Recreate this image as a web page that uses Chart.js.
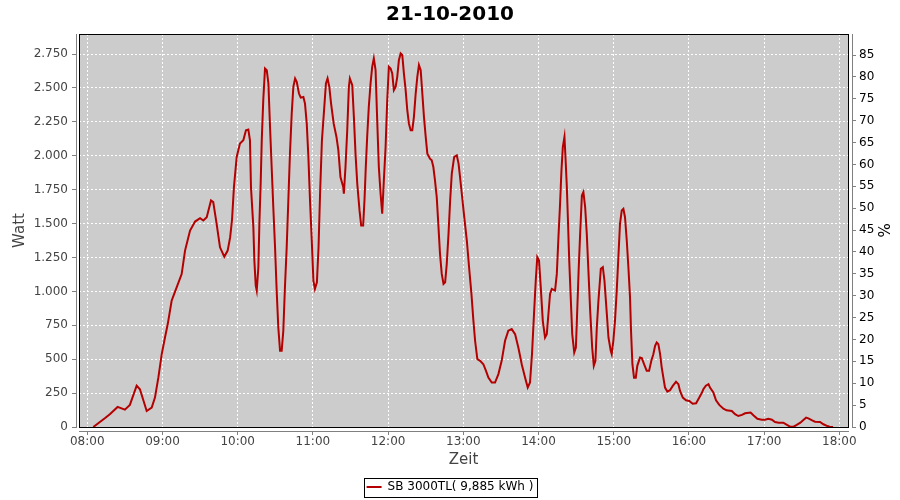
<!DOCTYPE html>
<html>
<head>
<meta charset="utf-8">
<script src="https://cdn.jsdelivr.net/npm/chart.js@4.4.0/dist/chart.umd.min.js"></script>
<style>
  html, body { margin: 0; padding: 0; background: #fff; }
  #wrap { width: 900px; height: 500px; }
</style>
</head>
<body>
<div id="wrap"><canvas id="chart" width="900" height="500"></canvas></div>
<script>
// minutes since midnight
const times = [
  484.8, 494, 498, 504.2, 510, 514, 519.4, 522, 527.4, 531.4, 534, 536.7, 539.4, 542, 544.2, 547.3,
  551.3, 555.3, 558, 562, 566, 570, 572.6, 575.3, 578.7, 580.5, 583.2, 585.9, 589.3, 592, 594, 595.5,
  597, 599.2, 601.8, 604.5, 606.6, 608.5, 609.8, 610.6, 612.5, 613.3, 614.4, 615.2, 616.5, 617.3, 618.4, 619.2,
  620.4, 621.8, 623.2, 624.5, 625.8, 627.1, 628.4, 629.8, 631.1, 632.4, 633.8, 635.1, 636.4, 637.7, 639.1, 640.4,
  641.7, 643.1, 644.4, 645.8, 647.1, 648.9, 650.3, 652.4, 653.7, 655.1, 656.4, 657.7, 659.1, 660.4, 661.6, 663.2,
  664.5, 665.8, 667.2, 669.1, 670.4, 671.7, 673.1, 674.5, 676.6, 678.8, 680.3, 682, 684.2, 684.7, 686, 687.4,
  688.7, 689.5, 691.4, 692.7, 694, 695.4, 697.2, 698.5, 700.1, 701.2, 702.2, 703.3, 704.6, 706, 707.3, 708.6,
  710, 711.3, 712.6, 714, 715.3, 716.6, 718, 719.3, 720.6, 722, 723.3, 724.6, 726, 727.3, 728.6, 730,
  731.3, 732.6, 734, 735.3, 736.6, 738, 739.3, 740.6, 742, 743.3, 744.6, 746, 747.3, 748.6, 750, 751.3,
  753.4, 754.8, 756.1, 757.4, 758.8, 760.2, 761.4, 762.8, 764.2, 765.5, 766.8, 768.2, 769.5, 770.8, 772.7, 774.8,
  776.2, 777.4, 778.8, 780.6, 782.8, 784.6, 786.5, 788, 789.4, 791.2, 793.4, 796, 798.1, 800, 802.7, 805.3,
  808, 810.6, 813.3, 815.9, 818.6, 821.3, 823.9, 826.6, 829.3, 831.4, 833.2, 834.8, 836.4, 837.8, 839, 840.4,
  841.8, 843.4, 845.2, 846.6, 847.9, 849.2, 850.6, 853.2, 854.6, 855.9, 857.2, 858.3, 859.4, 860.7, 861.5, 862.6,
  863.4, 864.5, 865.8, 866.9, 868.5, 869.8, 870.6, 872, 873.2, 874.6, 875.8, 877.2, 878.5, 879.8, 881.2, 882.8,
  884.1, 885.4, 886.5, 887.8, 889.7, 891.3, 892.6, 894.5, 895.8, 897.6, 898.4, 899.7, 901, 902.4, 903.7, 905,
  906.4, 907.7, 909, 910.4, 911.7, 913, 913.8, 914.9, 916.2, 917.6, 918.8, 921, 922.4, 924.2, 926.3, 928.2,
  930, 931.6, 933, 934.3, 935.6, 937, 938.3, 939.6, 940.9, 942.8, 944.9, 947.1, 949.7, 951.6, 952.9, 955.1,
  957.7, 960.3, 963, 965.7, 967.5, 970.2, 971.5, 973.5, 975.6, 976.8, 979.5, 981.6, 984.2, 987.5, 990, 994.2,
  996.8, 999.4, 1002.3, 1004.8, 1009.2, 1011.4, 1014.6, 1018.1, 1020.7, 1023.4, 1026.2, 1028.7, 1031.6, 1035.3, 1037.5, 1040.7,
  1043.5, 1046, 1048.9, 1051.3, 1053.5, 1055.3, 1058.3, 1060.6, 1064.6, 1067.3, 1070.5, 1072.6, 1075
];

const watts = [
  0, 64, 94, 148, 128, 163, 305, 278, 118, 143, 217, 364, 537, 660, 759, 931,
  1030, 1128, 1301, 1449, 1515, 1540, 1523, 1547, 1670, 1658, 1498, 1325, 1256, 1301, 1400, 1530,
  1769, 1991, 2090, 2114, 2188, 2193, 2114, 1769, 1474, 1227, 1043, 1006, 1178, 1498, 1818, 2114,
  2410, 2644, 2631, 2533, 2213, 1917, 1622, 1325, 1006, 734, 562, 562, 710, 1030, 1325, 1670,
  2016, 2311, 2508, 2570, 2545, 2459, 2429, 2434, 2385, 2237, 1991, 1670, 1375, 1079, 1018, 1067,
  1325, 1745, 2114, 2361, 2533, 2570, 2508, 2385, 2237, 2139, 2041, 1843, 1769, 1720, 1917, 2188,
  2508, 2570, 2521, 2287, 2016, 1794, 1597, 1486, 1486, 1680, 1917, 2139, 2361, 2533, 2656, 2718,
  2631, 2262, 1917, 1720, 1573, 1818, 2065, 2410, 2656, 2644, 2607, 2484, 2508, 2582, 2705, 2755,
  2743, 2607, 2484, 2336, 2237, 2188, 2188, 2287, 2459, 2582, 2669, 2631, 2459, 2287, 2139, 2016,
  1979, 1967, 1917, 1818, 1695, 1474, 1277, 1129, 1055, 1067, 1203, 1424, 1670, 1868, 1991, 2003,
  1942, 1843, 1720, 1560, 1375, 1178, 980, 790, 636, 500, 488, 463, 414, 364, 328, 328,
  390, 488, 636, 710, 722, 685, 586, 463, 364, 291, 328, 537, 833, 1079, 1252, 1227,
  1030, 783, 660, 685, 833, 981, 1018, 1006, 1129, 1400, 1647, 1892, 2065, 2139, 1991, 1769,
  1547, 1227, 931, 685, 549, 586, 783, 1153, 1424, 1708, 1733, 1622, 1424, 1153, 858, 586,
  451, 488, 734, 931, 1166, 1178, 1079, 833, 660, 562, 537, 636, 783, 1006, 1252, 1498,
  1597, 1609, 1547, 1375, 1178, 956, 710, 463, 364, 364, 451, 512, 508, 463, 414, 414,
  488, 537, 599, 623, 611, 537, 438, 364, 291, 261, 271, 303, 333, 316, 266, 217,
  197, 192, 172, 175, 205, 250, 278, 305, 316, 291, 254, 197, 163, 135, 123, 118,
  94, 81, 89, 101, 106, 86, 61, 54, 54, 61, 54, 37, 32, 32, 20, 2,
  2, 15, 32, 52, 69, 64, 49, 39, 37, 20, 7, 0, 0
];

const hourTicks = [480, 540, 600, 660, 720, 780, 840, 900, 960, 1020, 1080];
const hourLabels = ['08:00', '09:00', '10:00', '11:00', '12:00', '13:00', '14:00', '15:00', '16:00', '17:00', '18:00'];
const wattTicks = [0, 250, 500, 750, 1000, 1250, 1500, 1750, 2000, 2250, 2500, 2750];
const percentTicks = [0, 5, 10, 15, 20, 25, 30, 35, 40, 45, 50, 55, 60, 65, 70, 75, 80, 85];

const chartTitle = '21-10-2010';
const seriesLabel = 'SB 3000TL( 9,885 kWh )';

const FONT = "'DejaVu Sans', sans-serif";
const PLOT_LEFT = 79;
const PLOT_RIGHT = 848;
const PLOT_BOTTOM = 427;
const PAD_BOTTOM = -3;

function formatWatt(v) {
  if (v < 1000) return String(v);
  return Math.floor(v / 1000) + '.' + String(v % 1000).padStart(3, '0');
}

const plotFrame = {
  id: 'plotFrame',
  beforeDraw(chart) {
    const { ctx, chartArea: a } = chart;
    ctx.save();
    ctx.fillStyle = '#cccccc';
    ctx.fillRect(a.left, a.top, a.right - a.left, a.bottom - a.top);
    ctx.restore();
  },
  afterDraw(chart) {
    const { ctx, chartArea: a } = chart;
    ctx.save();
    // small gap between plot and axis lines
    ctx.fillStyle = '#fff';
    ctx.fillRect(a.left - 2, a.top, 2, a.bottom - a.top + 5);
    ctx.fillRect(a.right + 1, a.top, 3, a.bottom - a.top + 5);
    ctx.fillRect(a.left - 2, a.bottom + 1, a.right - a.left + 6, 3);

    ctx.strokeStyle = '#808080';
    ctx.lineWidth = 1;
    ctx.beginPath();
    ctx.moveTo(a.left - 2.5, a.top);
    ctx.lineTo(a.left - 2.5, a.bottom + 1);
    ctx.moveTo(a.right + 4.5, a.top);
    ctx.lineTo(a.right + 4.5, a.bottom + 1);
    ctx.moveTo(a.left, a.bottom + 4.5);
    ctx.lineTo(a.right + 1, a.bottom + 4.5);
    ctx.stroke();

    ctx.strokeStyle = '#000';
    ctx.strokeRect(a.left + 0.5, a.top + 0.5, a.right - a.left, a.bottom - a.top);

    // frame round the legend
    const hb = chart.legend.legendHitBoxes[0];
    if (hb) {
      const cy = hb.top + hb.height / 2;
      ctx.strokeRect(Math.round(hb.left - 3) + 0.5, Math.round(cy - 9.5) + 0.5,
        Math.round(hb.width + 6), 19);
    }
    ctx.restore();
  }
};

new Chart(document.getElementById('chart'), {
  type: 'line',
  data: {
    datasets: [{
      label: seriesLabel,
      data: times.map((t, i) => ({ x: t, y: watts[i] })),
      borderColor: '#b40000',
      backgroundColor: '#b40000',
      borderWidth: 2,
      pointRadius: 0,
      fill: false,
      tension: 0,
      yAxisID: 'y'
    }]
  },
  options: {
    responsive: false,
    animation: false,
    devicePixelRatio: 1,
    events: [],
    layout: { padding: { left: 0, right: 0, top: 0, bottom: PAD_BOTTOM } },
    plugins: {
      title: {
        display: true,
        text: chartTitle,
        color: '#000',
        font: { family: FONT, size: 20, weight: 'bold' },
        padding: { top: 3, bottom: 7 }
      },
      legend: {
        position: 'bottom',
        labels: {
          usePointStyle: true,
          pointStyle: 'line',
          pointStyleWidth: 15,
          color: '#000',
          padding: 10,
          font: { family: FONT, size: 12 }
        }
      },
      tooltip: { enabled: false }
    },
    scales: {
      x: {
        type: 'linear',
        min: 473.4,
        max: 1086.9,
        afterBuildTicks: s => { s.ticks = hourTicks.map(v => ({ value: v })); },
        afterFit: s => { s.height = s.chart.height - PAD_BOTTOM - s.chart.legend.height - PLOT_BOTTOM; },
        ticks: {
          callback: (v, i) => hourLabels[i],
          color: '#444',
          padding: 0,
          maxRotation: 0,
          font: { family: FONT, size: 12 }
        },
        grid: { color: '#fff', lineWidth: 1, tickLength: 8, tickColor: '#808080', tickBorderDash: [] },
        border: { display: false, dash: [2, 2] },
        title: {
          display: true,
          text: 'Zeit',
          color: '#444',
          font: { family: FONT, size: 15 },
          padding: { top: 0, bottom: 2 }
        }
      },
      y: {
        position: 'left',
        min: 0,
        max: 2898,
        afterBuildTicks: s => { s.ticks = wattTicks.map(v => ({ value: v })); },
        afterFit: s => { s.width = PLOT_LEFT; },
        ticks: {
          callback: v => formatWatt(v),
          color: '#444',
          padding: 4,
          font: { family: FONT, size: 12 }
        },
        grid: { color: '#fff', lineWidth: 1, tickLength: 7, tickColor: '#808080', tickBorderDash: [] },
        border: { display: false, dash: [2, 2] },
        title: {
          display: true,
          text: 'Watt',
          color: '#444',
          font: { family: FONT, size: 15 },
          padding: { top: 11, bottom: 0 }
        }
      },
      y2: {
        position: 'right',
        min: 0,
        max: 89.8,
        afterBuildTicks: s => { s.ticks = percentTicks.map(v => ({ value: v })); },
        afterFit: s => { s.width = 900 - PLOT_RIGHT; },
        ticks: {
          color: '#000',
          padding: 3,
          font: { family: FONT, size: 12 }
        },
        grid: { drawOnChartArea: false, tickLength: 8, tickColor: '#808080', tickBorderDash: [] },
        border: { display: false },
        title: {
          display: true,
          text: '%',
          color: '#000',
          font: { family: FONT, size: 15 },
          padding: { top: 9, bottom: 0 }
        }
      }
    }
  },
  plugins: [plotFrame]
});
</script>
</body>
</html>
